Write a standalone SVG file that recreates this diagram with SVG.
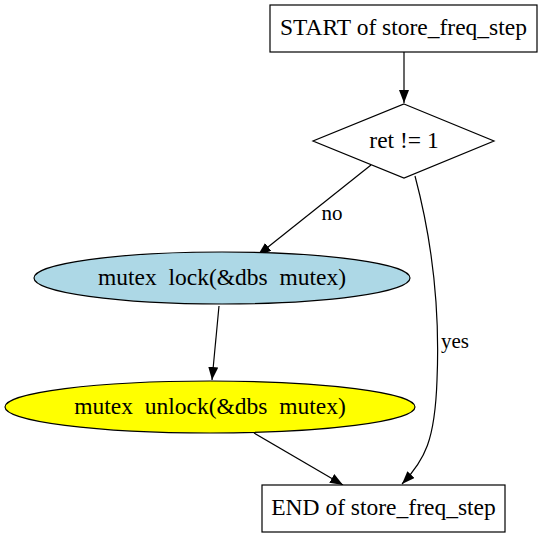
<svg xmlns="http://www.w3.org/2000/svg" width="544" height="539" viewBox="0 0 544 539">
<style>
text{font-family:"Liberation Serif","Times New Roman",serif;font-size:23.5px;fill:#000;text-anchor:middle;white-space:pre}
.n{stroke:#000;stroke-width:1.2}
.e{fill:none;stroke:#000;stroke-width:1.2}
.l{font-size:21px}
</style>
<defs>
<marker id="a" viewBox="0 0 13 10" refX="13" refY="5" markerWidth="13" markerHeight="10" markerUnits="userSpaceOnUse" orient="auto">
<path d="M0,0 L13,5 L0,10 z" fill="#000"/>
</marker>
</defs>
<rect width="544" height="539" fill="#fff"/>
<g id="edges">
<path class="e" d="M404,52 L404,103" marker-end="url(#a)"/>
<path class="e" d="M371,165 L258,255" marker-end="url(#a)"/>
<path class="e" d="M415,176 C432,240 440,310 437,380 C435,440 425,460 402,484" marker-end="url(#a)"/>
<path class="e" d="M219,306 L212,380" marker-end="url(#a)"/>
<path class="e" d="M254,433 L343,485" marker-end="url(#a)"/>
<text class="l" x="332" y="220">no</text>
<text class="l" x="455" y="348">yes</text>
</g>
<g id="start">
<rect class="n" x="270" y="5" width="267" height="47" fill="#fff"/>
<text x="403.5" y="35">START of store_freq_step</text>
</g>
<g id="cond">
<polygon class="n" points="404,104 494,141 404,178 313,141" fill="#fff"/>
<text x="404" y="148">ret != 1</text>
</g>
<g id="lock">
<ellipse class="n" cx="222" cy="278" rx="188" ry="26" fill="#add8e6"/>
<text x="222" y="285">mutex  lock(&amp;dbs  mutex)</text>
</g>
<g id="unlock">
<ellipse class="n" cx="210" cy="407" rx="205" ry="26" fill="#ffff00"/>
<text x="210" y="414">mutex  unlock(&amp;dbs  mutex)</text>
</g>
<g id="end">
<rect class="n" x="262" y="485" width="243" height="47" fill="#fff"/>
<text x="383.5" y="515">END of store_freq_step</text>
</g>
</svg>
